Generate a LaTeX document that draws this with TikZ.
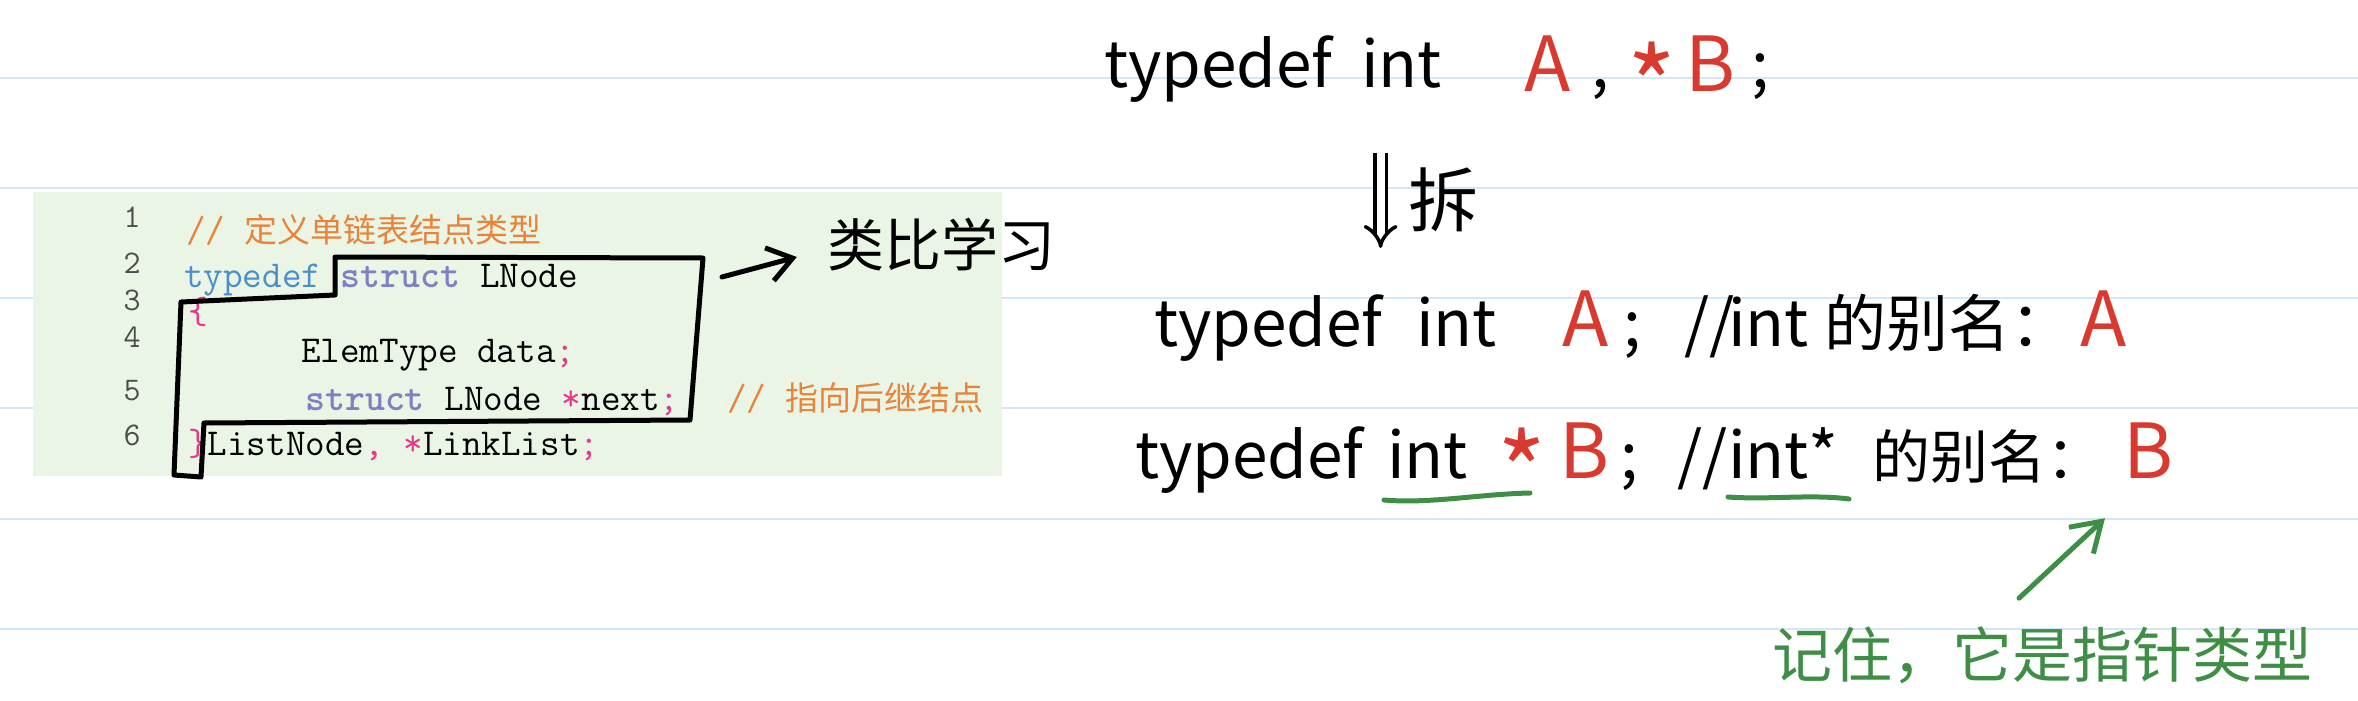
\documentclass[tikz,border=0pt]{standalone}
\usepackage{fontspec}
\newfontfamily\cjkfont{Noto Sans CJK SC}
\usetikzlibrary{arrows.meta}

\definecolor{rulecol}{HTML}{D3E7F6}
\definecolor{codebg}{HTML}{EAF5E5}
\definecolor{cmtorange}{HTML}{E8843A}
\definecolor{kwblue}{HTML}{4A8FCB}
\definecolor{kwpurple}{HTML}{7F7FC4}
\definecolor{punpink}{HTML}{E8388A}
\definecolor{inkred}{HTML}{D93A30}
\definecolor{inkgreen}{HTML}{3F8E46}
\definecolor{lngray}{HTML}{4D4D4D}

\newcommand{\pk}[1]{\textcolor{punpink}{#1}}
\newcommand{\kw}[1]{\textcolor{kwpurple}{\bfseries #1}}
\newcommand{\cm}[1]{\textcolor{cmtorange}{// {\cjkfont\fontsize{33}{33}\selectfont #1}}}

\begin{document}
\begin{tikzpicture}[x=1pt,y=-1pt,
  rule/.style={line width=2.5pt, rulecol},
  lnum/.style={anchor=base, inner sep=0pt, text=lngray, font=\ttfamily\fontsize{33}{33}\selectfont},
  code/.style={anchor=base west, inner sep=0pt, font=\ttfamily\fontsize{38}{38}\selectfont},
  hand/.style={anchor=base west, inner sep=0pt, font=\cjkfont\fontsize{64}{64}\selectfont},
  handred/.style={hand, text=inkred, font=\cjkfont\fontsize{76}{76}\selectfont},
  star/.style={hand, anchor=center, text=inkred, font=\cjkfont\fontsize{105}{105}\selectfont},
  ink/.style={line width=5pt, line cap=round, line join=round}]

\useasboundingbox (0,0) rectangle (2358,701);

% Ruled paper
\foreach \y in {78,188,298,408,519,629}
  \draw[rule] (0,\y) -- (2358,\y);

% Code block
\fill[codebg] (33,192) rectangle (1002,476);
\foreach \n/\y in {1/227,2/273,3/310,4/347,5/400,6/445}
  \node[lnum] (ln\n) at (132,\y) {\n};

\node[code] (c1) at (186,242) {\cm{定义单链表结点类型}};
\node[code] (c2) at (184,287) {\textcolor{kwblue}{typedef} \kw{struct} LNode};
\node[code] (c3) at (188,323) {\pk{\{}};
\node[code] (c4) at (301,362) {ElemType data\pk{;}};
\node[code] (c5) at (305,410) {\kw{struct} LNode \pk{*}next\pk{;}};
\node[code] (c5c) at (727,410) {\cm{指向后继结点}};
\node[code] (c6) at (188,455) {\pk{\}}ListNode\pk{,} \pk{*}LinkList\pk{;}};

% Hand drawn outline round the struct
\draw[ink] (335,257) coordinate (otl) -- (703,258) coordinate (otr)
  -- (690,420) -- (204,423) -- (201,477) -- (174,475) -- (181,302)
  -- (335,295) -- cycle;

\node[hand, anchor=center, font=\cjkfont\fontsize{57}{57}\selectfont] (lb) at (941,245) {类比学习};
\draw[ink, -{Straight Barb[length=24pt,width=34pt]}]
  ([xshift=19pt,yshift=-19pt]otr) -- ([xshift=-30pt,yshift=-12pt]lb.west);

% typedef int A, *B;
\node[hand] (t1) at (1104,88) {typedef};
\node[hand] (i1) at (1361,88) {int};
\node[handred] (a1) at (1524,92) {A};
\node[hand] (k1) at (1591,88) {,};
\node[star] (s1) at (1652,84) {*};
\node[handred] (b1) at (1685,92) {B};
\node[hand] (e1) at (1751,88) {;};

% split
\draw[line width=3.5pt, double distance=8pt, -{Implies}]
  ([xshift=-21pt,yshift=-65pt]i1.base) -- ([xshift=-21pt,yshift=-160pt]i1.base);
\node[hand, anchor=center, font=\cjkfont\fontsize{70}{70}\selectfont] (sp) at (1443,200) {拆};

% typedef int A;
\node[hand] (t2) at (1154,346) {typedef};
\node[hand] (i2) at (1416,346) {int};
\node[handred] (a2) at (1562,346) {A};
\node[hand] (e2) at (1623,346) {;};
\node[hand] (d2) at (1684,346) {//};
\node[hand] (n2) at (1728,346) {int};
\node[hand, font=\cjkfont\fontsize{62}{62}\selectfont] (m2) at (1824,346) {的别名：};
\node[handred] (a2r) at (2080,346) {A};

% typedef int *B;
\node[hand] (t3) at (1135,478) {typedef};
\node[hand] (i3) at (1387,478) {int};
\node[star] (s3) at (1522,470) {*};
\node[handred] (b3) at (1559,478) {B};
\node[hand] (e3) at (1620,478) {;};
\node[hand] (d3) at (1677,478) {//};
\node[hand] (n3) at (1728,478) {int*};
\node[hand, font=\cjkfont\fontsize{58}{58}\selectfont] (m3) at (1872,478) {的别名：};
\node[handred] (b3r) at (2123,478) {B};

% underlines
\draw[ink, inkgreen] (1384,500) .. controls (1430,504) and (1480,494) .. (1530,493);
\draw[ink, inkgreen] (1728,497) .. controls (1770,500) and (1810,494) .. (1849,499);

% note
\node[hand, anchor=center, text=inkgreen, font=\cjkfont\fontsize{60}{60}\selectfont] (note) at (2042,655) {记住，它是指针类型};
\draw[ink, inkgreen, -{Straight Barb[length=28pt,width=36pt]}]
  ([xshift=-23pt,yshift=28pt]note.north) -- ([xshift=-18pt,yshift=-40pt]b3r.south west);

\end{tikzpicture}
\end{document}
